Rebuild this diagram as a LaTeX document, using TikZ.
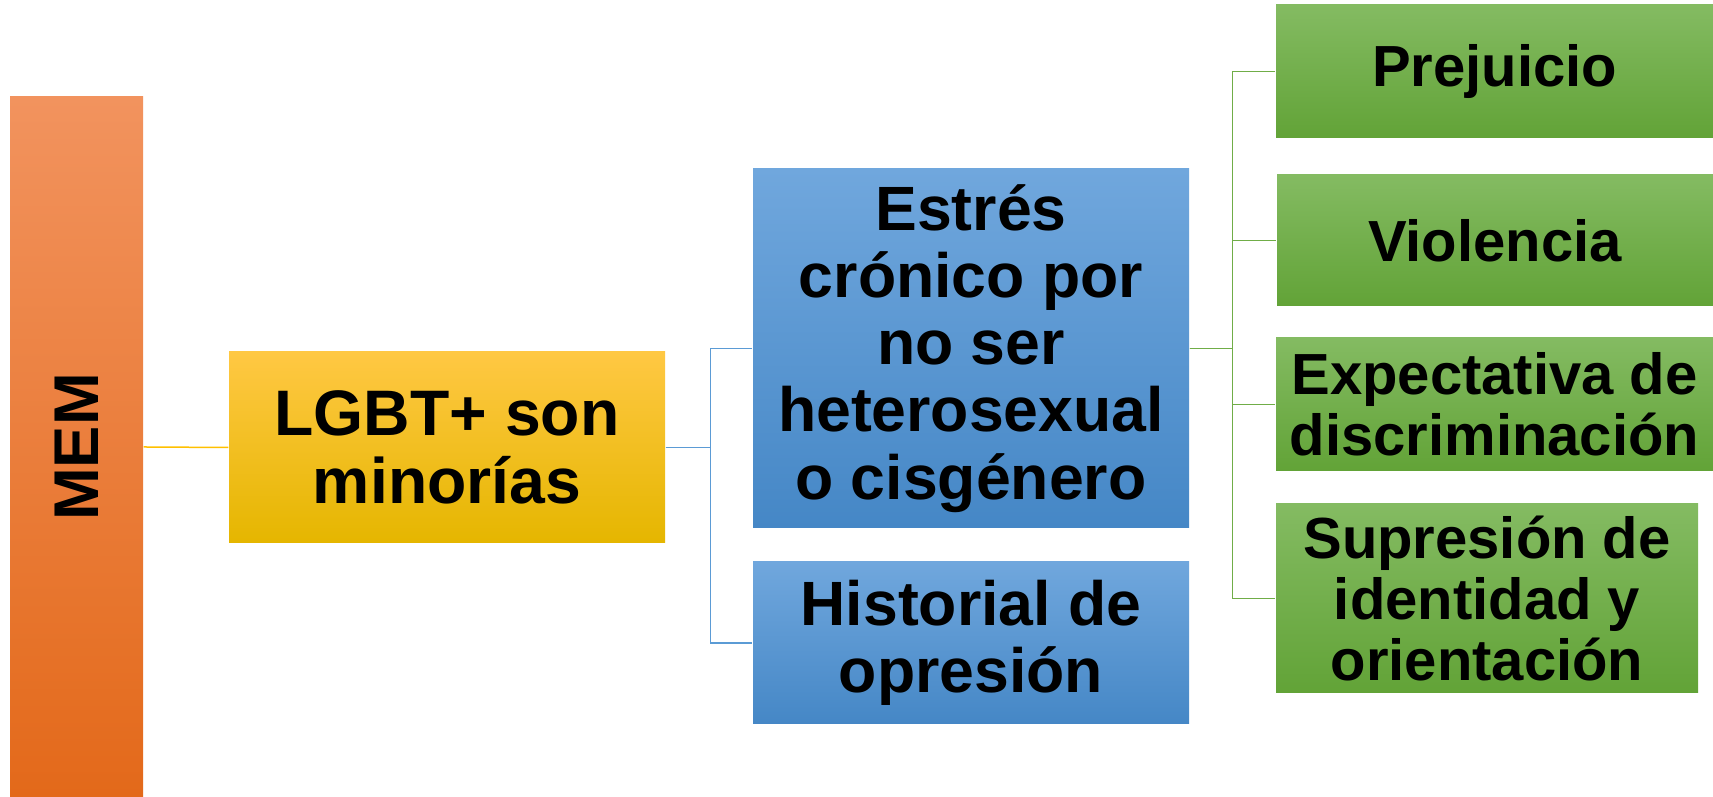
\documentclass[tikz,border=0pt]{standalone}
\usepackage{fontspec}
\usepackage{graphicx}
\setmainfont{Liberation Sans}
\usetikzlibrary{positioning}

\definecolor{orangetop}{HTML}{F2935E}
\definecolor{orangebot}{HTML}{E3691A}
\definecolor{yellowtop}{HTML}{FFC843}
\definecolor{yellowmid}{HTML}{FFC600}
\definecolor{yellowbot}{HTML}{E5B600}
\definecolor{bluetop}{HTML}{70A7DD}
\definecolor{bluemid}{HTML}{559AD8}
\definecolor{bluebot}{HTML}{4587C6}
\definecolor{greentop}{HTML}{84BB62}
\definecolor{greenmid}{HTML}{6FB13E}
\definecolor{greenbot}{HTML}{62A337}
\definecolor{yline}{HTML}{FFC000}
\definecolor{bline}{HTML}{5B9BD5}
\definecolor{gline}{HTML}{70AD47}

\begin{document}
\begin{tikzpicture}[x=0.1mm,y=0.1mm,
    box/.style={inner sep=0pt,align=center},
    orangebox/.style={box,top color=orangetop,bottom color=orangebot,
      font=\bfseries\fontsize{18}{18}\selectfont},
    yellowbox/.style={box,top color=yellowtop,middle color=yellowmid,bottom color=yellowbot,
      font=\bfseries\fontsize{18.3}{19.5}\selectfont},
    bluebox/.style={box,top color=bluetop,middle color=bluemid,bottom color=bluebot,
      minimum width=43.6mm,font=\bfseries\fontsize{17.8}{19.1}\selectfont},
    greenbox/.style={box,top color=greentop,middle color=greenmid,bottom color=greenbot,
      font=\bfseries\fontsize{16.5}{17.4}\selectfont},
    link/.style={line width=0.15mm}]
  \useasboundingbox (0,0) rectangle (1713,797);

  \node[orangebox,minimum width=13.3mm,minimum height=70mm] (mem) at (76.5,350)
    {\rotatebox{90}{MEM}};
  \node[yellowbox,minimum width=43.6mm,minimum height=19.1mm] (lgbt) at (447,349.5)
    {LGBT+ son\\minorías};

  \node[bluebox,minimum height=35.9mm] (estres) at (971,448.5)
    {Estrés\\crónico por\\no ser\\heterosexual\\o cisgénero};
  \node[bluebox,minimum height=16.2mm] (historial) at (971,154)
    {Historial de\\opresión};

  \node[greenbox,minimum width=43.7mm,minimum height=13.3mm] (prejuicio) at (1494.5,725.5)
    {Prejuicio};
  \node[greenbox,minimum width=43.6mm,minimum height=13.1mm] (violencia) at (1495,556.5)
    {Violencia};
  \node[greenbox,minimum width=43.7mm,minimum height=13.3mm] (expectativa) at (1494.5,392.5)
    {Expectativa de\\discriminación};
  \node[greenbox,minimum width=42.2mm,minimum height=18.9mm] (supresion) at (1487,198.5)
    {Supresión de\\identidad y\\orientación};

  \draw[link,yline] (mem.east) -- (lgbt.west);
  \draw[link,bline] (lgbt.east) -- ++(45,0) |- (estres.west);
  \draw[link,bline] (lgbt.east) -- ++(45,0) |- (historial.west);
  \foreach \n in {prejuicio,violencia,expectativa,supresion}
    \draw[link,gline] (estres.east) -- ++(43,0) |- (\n.west);
\end{tikzpicture}
\end{document}
